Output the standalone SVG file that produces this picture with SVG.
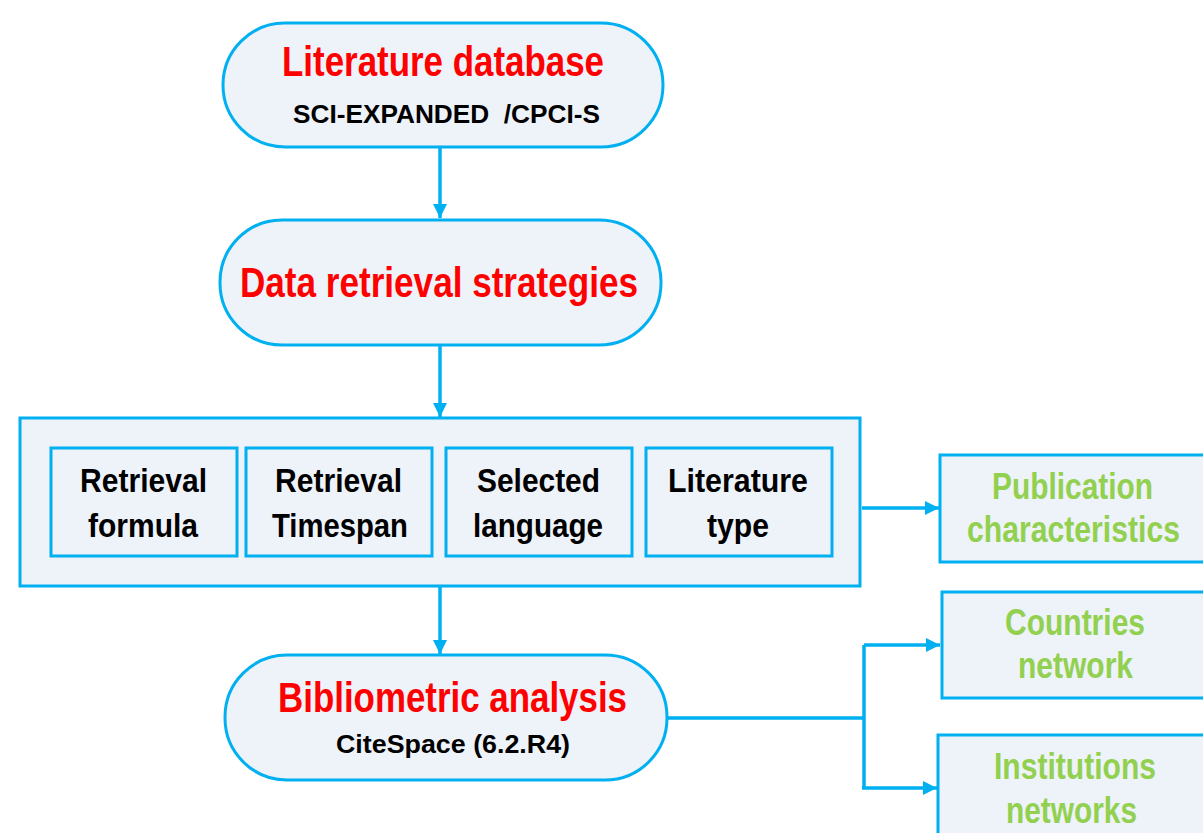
<svg xmlns="http://www.w3.org/2000/svg" width="1203" height="833" viewBox="0 0 1203 833">
<style>
.box{fill:#eef2f9;stroke:#00b0f0;stroke-width:3}
.t{font-family:"Liberation Sans",Arial,sans-serif;font-weight:bold}
.red{fill:#ff0000;font-size:42px}
.sub{fill:#000;font-size:25px}
.blk{fill:#000;font-size:34px}
.grn{fill:#92d050;font-size:36px}
.con{fill:none;stroke:#00b0f0;stroke-width:3.5}
</style>
<defs>
<marker id="ah" viewBox="0 0 10 10" refX="10" refY="5" markerWidth="4" markerHeight="4" orient="auto" markerUnits="strokeWidth">
<path d="M0,0 L10,5 L0,10 z" fill="#00b0f0"/>
</marker>
</defs>
<rect width="1203" height="833" fill="#fff"/>
<g id="connectors">
<line class="con" x1="440" y1="148" x2="440" y2="218" marker-end="url(#ah)"/>
<line class="con" x1="440" y1="346" x2="440" y2="417" marker-end="url(#ah)"/>
<line class="con" x1="440" y1="587" x2="440" y2="654" marker-end="url(#ah)"/>
<line class="con" x1="862" y1="508" x2="939" y2="508" marker-end="url(#ah)"/>
<path class="con" d="M667,718 H864 M864,645 V788"/>
<line class="con" x1="864" y1="645" x2="940" y2="645" marker-end="url(#ah)"/>
<line class="con" x1="862" y1="788" x2="937" y2="788" marker-end="url(#ah)"/>
</g>
<g id="literature-database">
<rect class="box" x="223" y="23" width="440" height="124" rx="62" ry="62"/>
<text class="t red" x="282" y="76" textLength="322" lengthAdjust="spacingAndGlyphs">Literature database</text>
<text class="t sub" x="293" y="123" textLength="307" lengthAdjust="spacingAndGlyphs" xml:space="preserve">SCI-EXPANDED  /CPCI-S</text>
</g>
<g id="data-retrieval">
<rect class="box" x="220" y="220" width="441" height="125" rx="62" ry="62"/>
<text class="t red" x="240" y="297" textLength="398" lengthAdjust="spacingAndGlyphs">Data retrieval strategies</text>
</g>
<g id="criteria">
<rect class="box" x="20" y="418" width="840" height="168"/>
<g id="retrieval-formula">
<rect class="box" x="51" y="448" width="186" height="108"/>
<text class="t blk" x="80" y="492" textLength="127" lengthAdjust="spacingAndGlyphs">Retrieval</text>
<text class="t blk" x="88" y="537" textLength="110" lengthAdjust="spacingAndGlyphs">formula</text>
</g>
<g id="retrieval-timespan">
<rect class="box" x="246" y="448" width="186" height="108"/>
<text class="t blk" x="275" y="492" textLength="127" lengthAdjust="spacingAndGlyphs">Retrieval</text>
<text class="t blk" x="272" y="537" textLength="136" lengthAdjust="spacingAndGlyphs">Timespan</text>
</g>
<g id="selected-language">
<rect class="box" x="446" y="448" width="186" height="108"/>
<text class="t blk" x="477" y="492" textLength="123" lengthAdjust="spacingAndGlyphs">Selected</text>
<text class="t blk" x="473" y="537" textLength="130" lengthAdjust="spacingAndGlyphs">language</text>
</g>
<g id="literature-type">
<rect class="box" x="646" y="448" width="186" height="108"/>
<text class="t blk" x="668" y="492" textLength="140" lengthAdjust="spacingAndGlyphs">Literature</text>
<text class="t blk" x="707" y="537" textLength="62" lengthAdjust="spacingAndGlyphs">type</text>
</g>
</g>
<g id="bibliometric-analysis">
<rect class="box" x="225" y="655" width="442" height="125" rx="62" ry="62"/>
<text class="t red" x="278" y="712" textLength="349" lengthAdjust="spacingAndGlyphs">Bibliometric analysis</text>
<text class="t sub" x="336" y="753" textLength="234" lengthAdjust="spacingAndGlyphs">CiteSpace (6.2.R4)</text>
</g>
<g id="publication-characteristics">
<rect class="box" x="940" y="455" width="270" height="107"/>
<text class="t grn" x="992" y="499" textLength="161" lengthAdjust="spacingAndGlyphs">Publication</text>
<text class="t grn" x="967" y="542" textLength="213" lengthAdjust="spacingAndGlyphs">characteristics</text>
</g>
<g id="countries-network">
<rect class="box" x="942" y="592" width="270" height="106"/>
<text class="t grn" x="1005" y="635" textLength="140" lengthAdjust="spacingAndGlyphs">Countries</text>
<text class="t grn" x="1018" y="678" textLength="115" lengthAdjust="spacingAndGlyphs">network</text>
</g>
<g id="institutions-networks">
<rect class="box" x="938" y="735" width="270" height="110"/>
<text class="t grn" x="994" y="779" textLength="162" lengthAdjust="spacingAndGlyphs">Institutions</text>
<text class="t grn" x="1006" y="823" textLength="131" lengthAdjust="spacingAndGlyphs">networks</text>
</g>
</svg>
